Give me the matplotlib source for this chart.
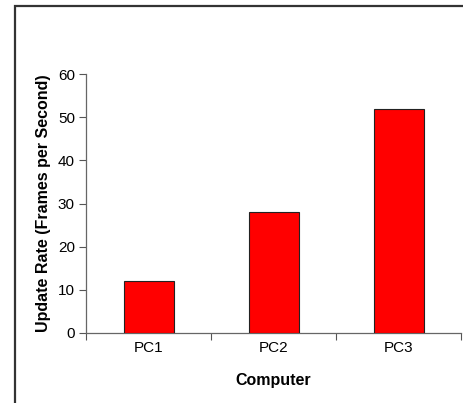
import matplotlib
matplotlib.use("Agg")
import matplotlib.pyplot as plt
from matplotlib.patches import Rectangle

categories = ["PC1", "PC2", "PC3"]
values = [12, 28, 52]
yticks = [0, 10, 20, 30, 40, 50, 60]

plt.rcParams['font.family'] = ['Liberation Sans', 'DejaVu Sans']

W, H = 464, 403
fig = plt.figure(figsize=(W / 100, H / 100), dpi=100)
fig.patch.set_facecolor('white')

# outer frame
fig.patches.append(Rectangle((15 / W, -0.1), 1.2, (H - 6) / H + 0.1, transform=fig.transFigure,
                             fill=False, edgecolor='#333333', linewidth=1.6))

ax = fig.add_axes([86 / W, (H - 333) / H, (461 - 86) / W, (333 - 74) / H])
x = list(range(len(categories)))
ax.bar(x, values, width=0.4, color='#ff0000', edgecolor='#222222', linewidth=0.8, zorder=3)

ax.set_xlim(-0.5, len(categories) - 0.5)
ax.set_ylim(0, 60)
ax.set_yticks(yticks)
ax.set_yticklabels([str(v) for v in yticks], fontsize=11)

ax.set_xticks([i - 0.5 for i in range(len(categories) + 1)])
ax.set_xticklabels([])
ax.set_xticks(x, minor=True)
ax.set_xticklabels(categories, minor=True, fontsize=11)
ax.tick_params(axis='x', which='minor', length=0, pad=6)
ax.tick_params(axis='x', which='major', length=5, color='#555555', width=0.8)
ax.tick_params(axis='y', length=5, color='#555555', width=0.8, pad=3)

for s in ['top', 'right']:
    ax.spines[s].set_visible(False)
for s in ['left', 'bottom']:
    ax.spines[s].set_color('#666666')
    ax.spines[s].set_linewidth(0.9)

ax.set_xlabel("Computer", fontsize=11.5, fontweight='bold', labelpad=13)
ax.set_ylabel("Update Rate (Frames per Second)", fontsize=11.5, fontweight='bold', labelpad=5)

fig.savefig("out.png", dpi=100, facecolor='white')
